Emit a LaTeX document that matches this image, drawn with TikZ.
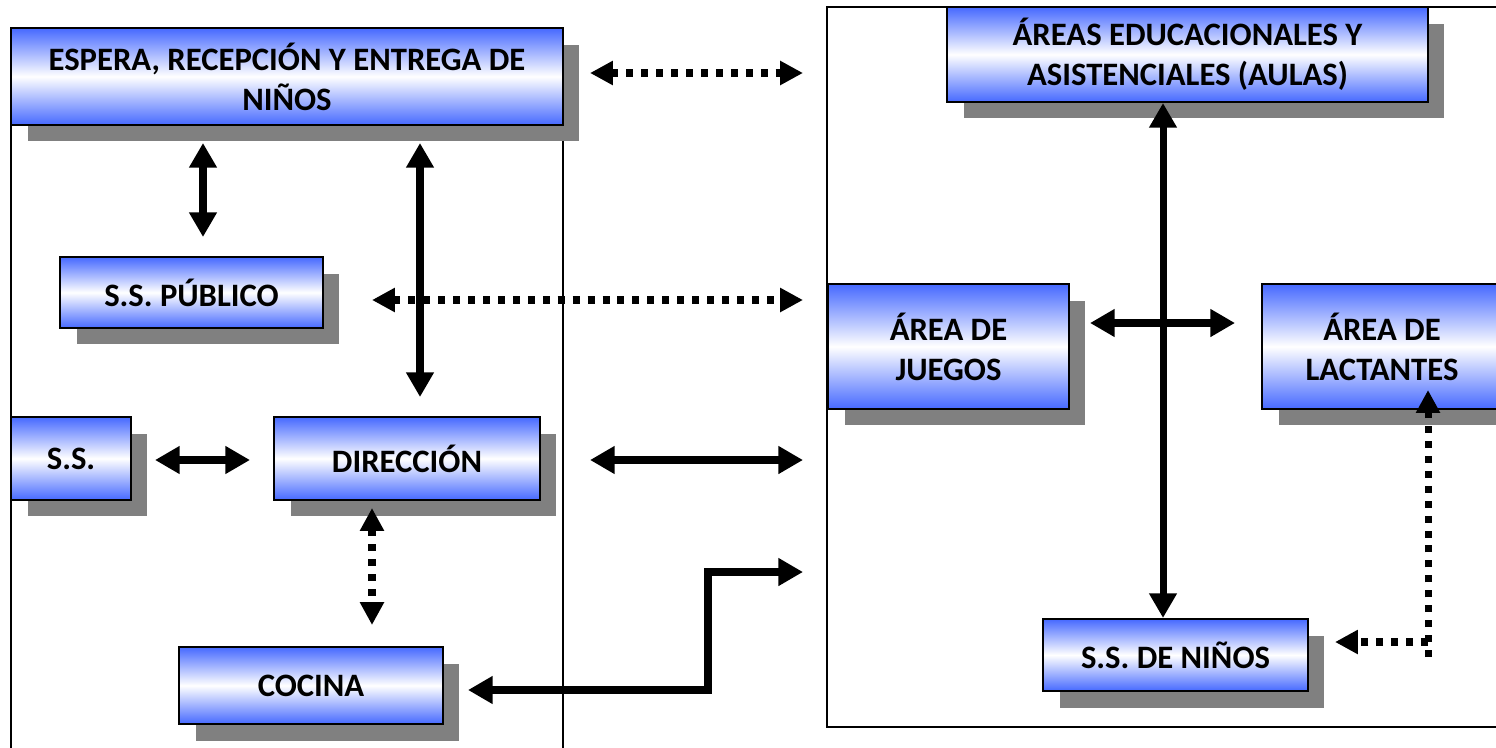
\documentclass[tikz,border=0pt]{standalone}
\usepackage{fontspec}
\setmainfont{Carlito}
\usetikzlibrary{arrows.meta,shadows}
\definecolor{boxblue}{RGB}{70,105,255}
\definecolor{shadowgray}{RGB}{128,128,128}
\tikzset{
 area/.style={draw=black, line width=1.2pt, top color=boxblue, bottom color=boxblue, middle color=white,
   drop shadow={shadow xshift=0.33cm, shadow yshift=-0.33cm, fill=shadowgray, opacity=1},
   align=center, font=\fontsize{18.6}{22.7}\selectfont\bfseries, inner sep=0pt},
 solidarrow/.style={line width=4pt, {Triangle[length=14pt,width=15pt]}-{Triangle[length=14pt,width=15pt]}},
 solidone/.style={line width=4pt, -{Triangle[length=14pt,width=15pt]}},
 dotarrow/.style={line width=4pt, dash pattern=on 4pt off 4.5pt, {Triangle[length=13pt,width=13pt]}-{Triangle[length=13pt,width=13pt]}},
 dotone/.style={line width=4pt, dash pattern=on 4pt off 4.5pt, -{Triangle[length=13pt,width=13pt]}},
 framebox/.style={draw=black, line width=1.1pt}
}
\begin{document}
\begin{tikzpicture}[x=0.02cm, y=-0.02cm]
\useasboundingbox (0,0) rectangle (1496,747);
\clip (0,0) rectangle (1496,747);
\fill[white] (0,0) rectangle (1496,747);
% enclosing frames
\draw[framebox] (11,28) rectangle (563,800);
\draw[framebox] (827,7) rectangle (1560,727);
% boxes
\node[area, minimum width=11.04cm, minimum height=1.94cm] (esp) at (287,76.5) {ESPERA, RECEPCIÓN Y ENTREGA DE\\NIÑOS};
\node[area, minimum width=9.62cm, minimum height=1.90cm] (aulas) at (1187.5,54.5) {ÁREAS EDUCACIONALES Y\\ASISTENCIALES (AULAS)};
\node[area, minimum width=5.26cm, minimum height=1.42cm] (pub) at (191.5,292.5) {S.S. PÚBLICO};
\node[area, minimum width=2.40cm, minimum height=1.66cm] (ss) at (71,458.5) {S.S.};
\node[area, minimum width=5.32cm, minimum height=1.66cm] (dir) at (407,458.5) {DIRECCIÓN};
\node[area, minimum width=4.82cm, minimum height=2.50cm] (jue) at (948.5,346.5) {ÁREA DE\\JUEGOS};
\node[area, minimum width=4.80cm, minimum height=2.50cm] (lac) at (1382,346.5) {ÁREA DE\\LACTANTES};
\node[area, minimum width=5.30cm, minimum height=1.44cm] (ssn) at (1175.5,655) {S.S. DE NIÑOS};
\node[area, minimum width=5.28cm, minimum height=1.54cm] (coc) at (311,685.5) {COCINA};
% connector end points
\coordinate (a1l) at (590,73);  \coordinate (a1r) at (803,73);
\coordinate (a2t) at (203,143); \coordinate (a2b) at (203,237);
\coordinate (a3t) at (420,143); \coordinate (a3b) at (420,397);
\coordinate (a4l) at (372,300); \coordinate (a4r) at (803,300);
\coordinate (a5l) at (155,460); \coordinate (a5r) at (250,460);
\coordinate (a6l) at (590,460); \coordinate (a6r) at (803,460);
\coordinate (a7t) at (372,508); \coordinate (a7b) at (372,625);
\coordinate (a8l) at (468,690); \coordinate (a8c1) at (708,690); \coordinate (a8c2) at (708,572); \coordinate (a8r) at (803,572);
\coordinate (a9) at (1163,0);
\coordinate (a10l) at (1090,323); \coordinate (a10r) at (1235,323);
\coordinate (a11b) at (1428,657); \coordinate (a11t) at (1428,390);
\coordinate (a12r) at (1428,642); \coordinate (a12l) at (1335,642);
% connectors
\draw[dotarrow] (a1l) -- (a1r);
\draw[solidarrow] (a2t) -- (a2b);
\draw[solidarrow] (a3t) -- (a3b);
\draw[dotarrow] (a4l) -- (a4r);
\draw[solidarrow] (a5l) -- (a5r);
\draw[solidarrow] (a6l) -- (a6r);
\draw[dotarrow] (a7t) -- (a7b);
\draw[solidarrow] (a8l) -- (a8c1) -- (a8c2) -- (a8r);
\draw[solidarrow] (aulas.south -| a9) -- (ssn.north -| a9);
\draw[solidarrow] (a10l) -- (a10r);
\draw[dotone] (a11b) -- (a11t);
\draw[dotone] (a12r) -- (a12l);
\end{tikzpicture}
\end{document}
